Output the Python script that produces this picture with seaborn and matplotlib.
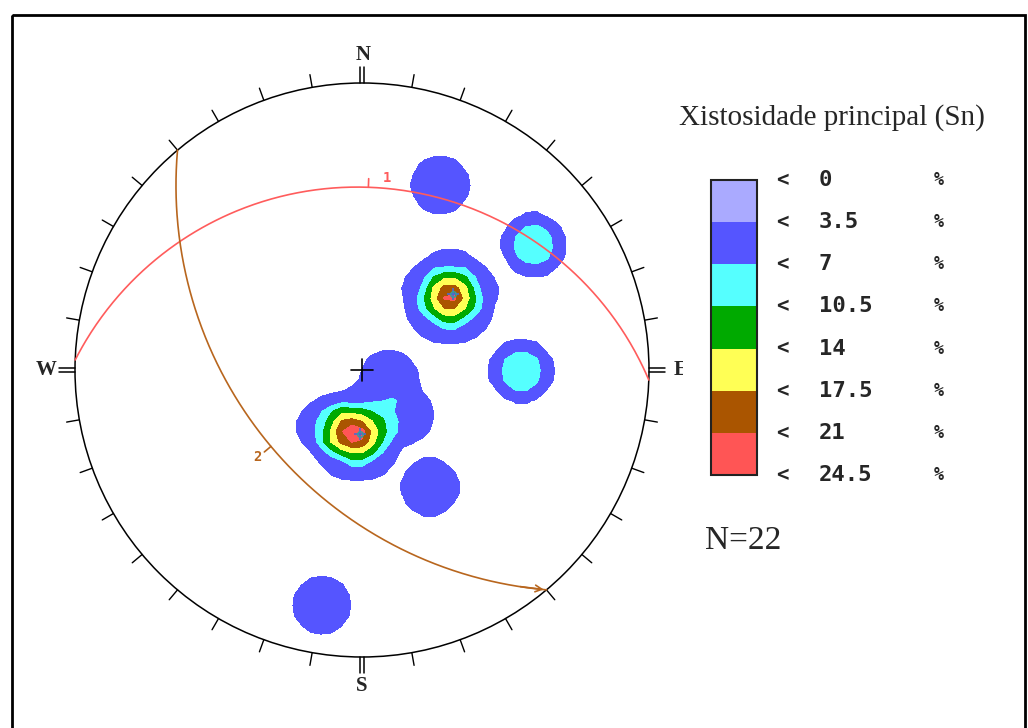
import numpy as np
import matplotlib
matplotlib.use("Agg")
import matplotlib.pyplot as plt
import seaborn as sns
from matplotlib.patches import Rectangle, Circle

sns.set_theme(style="white")
plt.rcParams["font.family"] = ["Liberation Serif", "DejaVu Serif"]

# polos da xistosidade Sn (coordenadas na rede de Wulff: x = leste, y = norte, raio 1)
polo_x = [0.307, 0.307, 0.240, 0.264, 0.348, 0.372,
          -0.017, -0.017, -0.080, -0.056, 0.022, 0.046,
          -0.125, 0.094, 0.150, 0.272, 0.592, 0.606,
          0.551, 0.560, 0.237, -0.139]
polo_y = [0.254, 0.322, 0.276, 0.200, 0.200, 0.276,
          -0.223, -0.160, -0.202, -0.277, -0.277, -0.202,
          -0.199, -0.031, -0.157, 0.645, 0.442, 0.428,
          0.003, -0.010, -0.408, -0.819]

# planos (direcao do mergulho / mergulho)
plano_nome = ["1", "2"]
plano_dd = [2, 230]
plano_dip = [25, 45]
plano_cor = ["#FF5C5C", "#B8661E"]

# classes da legenda (%)
classes = ["0", "3.5", "7", "10.5", "14", "17.5", "21", "24.5"]
classe_val = [0, 3.5, 7, 10.5, 14, 17.5, 21, 24.5]
classe_cor = ["#AAAAFF", "#5555FF", "#55FFFF", "#00AA00", "#FFFF55", "#AA5500", "#FF5555"]

titulo = "Xistosidade principal (Sn)"
n_txt = "N=22"


def projeta(trend, plunge):
    # projecao estereografica (Wulff), hemisferio inferior
    r = np.tan(np.radians(90 - plunge) / 2)
    return r * np.sin(np.radians(trend)), r * np.cos(np.radians(trend))


def circulo_maximo(dd, dip):
    t = np.radians(np.linspace(0, 180, 361))
    st = np.radians(dd - 90)
    d = np.radians(dd)
    dp = np.radians(dip)
    e = np.cos(t) * np.sin(st) + np.sin(t) * np.cos(dp) * np.sin(d)
    n = np.cos(t) * np.cos(st) + np.sin(t) * np.cos(dp) * np.cos(d)
    z = np.sin(t) * np.sin(dp)
    plunge = np.degrees(np.arcsin(np.clip(z, -1, 1)))
    trend = np.degrees(np.arctan2(e, n))
    return projeta(trend, plunge)


fig = plt.figure(figsize=(10.28, 7.28), dpi=100)
ax = fig.add_axes([0, 0, 1, 1])
ax.set_xlim(-362 / 287, (1028 - 362) / 287)
ax.set_ylim((370 - 728) / 287, 370 / 287)
ax.axis("off")

# densidade (circulo de contagem ~1%), grade grossa como no programa original
g = np.linspace(-1, 1, 57)
X, Y = np.meshgrid(g, g)
dens = np.zeros_like(X)
s = 0.094
for px, py in zip(polo_x, polo_y):
    d = np.hypot(X - px, Y - py)
    dens += np.exp(-(d / s) ** 5)
dens = dens * 100 / len(polo_x)
dens[X ** 2 + Y ** 2 > 1] = 0
niveis = [1.2] + classe_val[2:7] + [100]
ax.contourf(X, Y, dens, levels=niveis, colors=classe_cor[1:], zorder=1)

# circulo primitivo e marcas de 10 em 10 graus
ax.add_patch(Circle((0, 0), 1, fill=False, ec="black", lw=1.1, zorder=3))
for az in range(0, 360, 10):
    a = np.radians(az)
    if az % 90 == 0:
        for off in (-0.007, 0.007):
            ox, oy = off * np.cos(a), -off * np.sin(a)
            ax.plot([np.sin(a) * 1.0 + ox, np.sin(a) * 1.055 + ox],
                    [np.cos(a) * 1.0 + oy, np.cos(a) * 1.055 + oy], color="black", lw=1.1, zorder=3)
    else:
        ax.plot([np.sin(a), np.sin(a) * 1.045], [np.cos(a), np.cos(a) * 1.045],
                color="black", lw=1.0, zorder=3)

# centro
ax.plot([-0.04, 0.04], [0, 0], color="black", lw=1.2, zorder=3)
ax.plot([0, 0], [-0.04, 0.04], color="black", lw=1.2, zorder=3)

# pontos cardeais
for lab, (x, y) in zip(["N", "S", "W", "E"], [(0.003, 1.098), (0.0, -1.1), (-1.1, 0.0), (1.11, 0.0)]):
    ax.text(x, y, lab, ha="center", va="center", fontsize=15, fontweight="bold", zorder=3)

# circulos maximos
lab_pos = [(0.087, 0.668), (-0.366, -0.303)]
for i in range(len(plano_nome)):
    gx, gy = circulo_maximo(plano_dd[i], plano_dip[i])
    sns.lineplot(x=gx, y=gy, sort=False, estimator=None, color=plano_cor[i], lw=1.2, ax=ax, zorder=4)
    mx, my = projeta(plano_dd[i], plano_dip[i])
    ux, uy = mx / np.hypot(mx, my), my / np.hypot(mx, my)
    ax.plot([mx, mx + 0.03 * ux], [my, my + 0.03 * uy], color=plano_cor[i], lw=1.2, zorder=4)
    ax.text(lab_pos[i][0], lab_pos[i][1], plano_nome[i], color=plano_cor[i], ha="center", va="center",
            fontsize=10, fontweight="bold", family="DejaVu Sans Mono", zorder=4)
    # polo do plano
    ppx, ppy = projeta(plano_dd[i] + 180, 90 - plano_dip[i])
    ax.plot(ppx, ppy, marker="+", ms=9, mew=1.2, color="#4A6AD0", zorder=5)
    ax.plot(ppx, ppy, marker="o", ms=4, mfc="none", mew=1, color="#30A0A0", zorder=5)

# seta no fim do plano 2 (lado SE)
gx, gy = circulo_maximo(plano_dd[1], plano_dip[1])
ax.annotate("", xy=(gx[0], gy[0]), xytext=(gx[12], gy[12]),
            arrowprops=dict(arrowstyle="->", color=plano_cor[1], lw=1.2), zorder=4)

# camada em pixels para legenda e moldura
pax = fig.add_axes([0, 0, 1, 1])
pax.set_xlim(0, 1028)
pax.set_ylim(728, 0)
pax.axis("off")
pax.patch.set_alpha(0)

pax.add_patch(Rectangle((683, 150), 300, 400, fc="white", ec="none", zorder=1))
pax.add_patch(Rectangle((12, 15), 1013, 740, fill=False, ec="black", lw=2, zorder=5))

pax.text(832, 118, titulo, ha="center", va="center", fontsize=21, zorder=3)
pax.text(705, 541, n_txt, ha="left", va="center", fontsize=24, zorder=3)

h = (475 - 180) / len(classe_cor)
for i, c in enumerate(classe_cor):
    pax.add_patch(Rectangle((711, 180 + h * i), 46, h, fc=c, ec="none", zorder=2))
pax.add_patch(Rectangle((711, 180), 46, 295, fill=False, ec="#222222", lw=1.5, zorder=3))
for i, lab in enumerate(classes):
    y = 180 + h * i
    pax.text(776, y, "<", ha="left", va="center", fontsize=15, fontweight="bold",
             family="DejaVu Sans Mono", zorder=3)
    pax.text(819, y, lab, ha="left", va="center", fontsize=16, fontweight="bold",
             family="DejaVu Sans Mono", zorder=3)
    pax.text(939, y, "%", ha="center", va="center", fontsize=12, fontweight="bold",
             family="DejaVu Sans Mono", zorder=3)

fig.savefig("out.png", dpi=100)
